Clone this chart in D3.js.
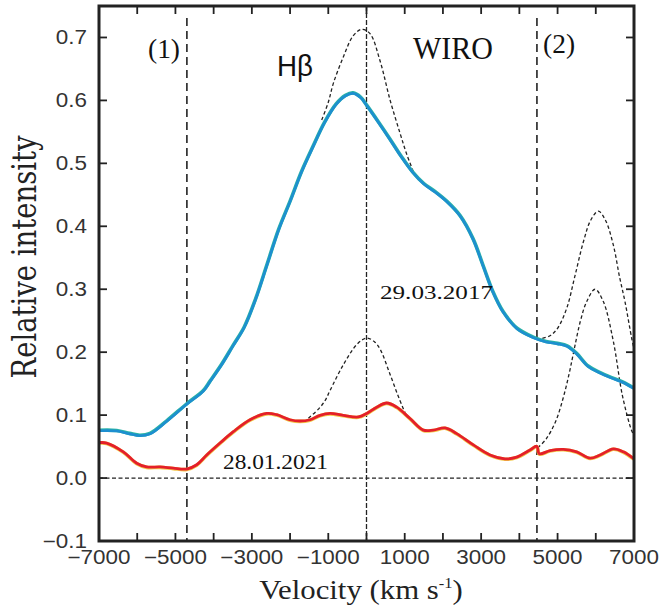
<!DOCTYPE html>
<html>
<head>
<meta charset="utf-8">
<script src="https://cdn.jsdelivr.net/npm/d3@7/dist/d3.min.js"></script>
<style>
  body { margin: 0; background: #fff; }
</style>
</head>
<body>
<div class="chart"></div>
<script>
// observed profiles (velocity km/s, relative intensity)
var spec2017 = [[-7000,0.076],[-6537,0.0756],[-6200,0.071],[-5927,0.068],[-5665,0.071],[-5228,0.091],
  [-4705,0.118],[-4270,0.139],[-4095,0.154],[-3800,0.18],[-3500,0.21],[-3200,0.24],[-2900,0.285],
  [-2600,0.34],[-2300,0.395],[-2000,0.44],[-1700,0.487],[-1400,0.527],[-1100,0.565],[-800,0.594],
  [-550,0.608],[-350,0.612],[-150,0.605],[0,0.593],[300,0.567],[600,0.54],[900,0.512],[1200,0.487],
  [1500,0.468],[1800,0.455],[2100,0.44],[2450,0.417],[2790,0.38],[3050,0.338],[3310,0.296],
  [3570,0.265],[3940,0.238],[4360,0.224],[4700,0.217],[5000,0.214],[5250,0.21],[5500,0.198],
  [5800,0.178],[6100,0.168],[6400,0.16],[6700,0.153],[7000,0.143]];

var spec2021 = [[-7000,0.0556],[-6800,0.055],[-6364,0.041],[-6013,0.023],[-5752,0.017],[-5400,0.017],
  [-5056,0.015],[-4705,0.0137],[-4443,0.0205],[-4181,0.036],[-3833,0.055],[-3485,0.073],[-3048,0.092],
  [-2611,0.102],[-2350,0.100],[-2002,0.092],[-1740,0.090],[-1478,0.092],[-1216,0.099],[-955,0.102],
  [-607,0.099],[-214,0.0965],[5,0.102],[267,0.112],[529,0.1186],[791,0.112],[1139,0.094],[1488,0.0756],
  [1749,0.0756],[2055,0.079],[2361,0.070],[2797,0.052],[3233,0.036],[3625,0.030],[3931,0.0326],
  [4280,0.044],[4455,0.050],[4523,0.038],[4802,0.043],[5151,0.045],[5500,0.041],[5849,0.031],
  [6111,0.036],[6460,0.0457],[6722,0.041],[7000,0.030]];

// dashed fitted components
var fit2017a = [[-1172,0.569],[-1000,0.597],[-868,0.627],[-607,0.669],[-345,0.703],[-125,0.713],
  [92,0.706],[354,0.663],[615,0.601],[877,0.548],[1050,0.515],[1270,0.480]];
var fit2021a = [[-1520,0.095],[-1250,0.11],[-1085,0.123],[-955,0.139],[-607,0.18],[-256,0.212],
  [0,0.2225],[200,0.217],[354,0.205],[615,0.165],[877,0.123],[1050,0.10],[1150,0.094]];
var fit2017b = [[4600,0.222],[4800,0.226],[5000,0.238],[5240,0.27],[5450,0.32],[5674,0.375],
  [5870,0.41],[6067,0.424],[6250,0.41],[6460,0.37],[6620,0.32],[6765,0.28],[6940,0.222],[7000,0.205]];
var fit2021b = [[4480,0.048],[4700,0.062],[4950,0.09],[5150,0.128],[5300,0.165],[5420,0.2],
  [5600,0.25],[5760,0.28],[5980,0.30],[6200,0.28],[6460,0.217],[6700,0.13],[6940,0.075],[7000,0.068]];

var xTickValues = [-6000,-5000,-4000,-3000,-2000,-1000,0,1000,2000,3000,4000,5000,6000];
var xTickLabels = [-7000,-5000,-3000,-1000,1000,3000,5000,7000];
var yTickLabels = [-0.1,0.0,0.1,0.2,0.3,0.4,0.5,0.6,0.7];

var markers = [-4700, 4460];   // (1) and (2)
var lineCenter = 0;

var notes = [
  {text: "(1)", v: -4880, i: 0.668, anchor: "end", font: "Liberation Serif", size: 27, len: 32},
  {text: "Hβ", v: -2342, i: 0.639, anchor: "start", font: "Liberation Sans", size: 30, len: 36},
  {text: "WIRO", v: 1217, i: 0.666, anchor: "start", font: "Liberation Serif", size: 32, len: 80},
  {text: "(2)", v: 4620, i: 0.675, anchor: "start", font: "Liberation Serif", size: 27, len: 32},
  {text: "29.03.2017", v: 354, i: 0.285, anchor: "start", font: "Liberation Serif", size: 19, len: 113},
  {text: "28.01.2021", v: -3755, i: 0.014, anchor: "start", font: "Liberation Serif", size: 20, len: 105}
];

var svgWidth = 661, svgHeight = 612;
var margin = {top: 6, left: 99, right: 27, bottom: 71};
var width = svgWidth - margin.left - margin.right;
var height = svgHeight - margin.top - margin.bottom;

var svg = d3.select(".chart").append("svg")
  .attr("width", svgWidth)
  .attr("height", svgHeight)
  .style("display", "block");

var g = svg.append("g")
  .attr("transform", `translate(${margin.left}, ${margin.top})`);

var x = d3.scaleLinear().domain([-7000, 7000]).range([0, width]);
var y = d3.scaleLinear().domain([-0.1, 0.75]).range([height, 0]);

var line = d3.line()
  .x(d => x(d[0]))
  .y(d => y(d[1]))
  .curve(d3.curveCatmullRom.alpha(0.5));

var ink = "#222";

// zero line
g.append("line")
  .attr("x1", 0).attr("x2", width)
  .attr("y1", y(0)).attr("y2", y(0))
  .attr("stroke", ink).attr("stroke-width", 1.2)
  .attr("stroke-dasharray", "4,2.5");

// vertical markers
g.selectAll(".marker").data(markers).enter().append("line")
  .attr("class", "marker")
  .attr("x1", d => x(d)).attr("x2", d => x(d))
  .attr("y1", y(0.731)).attr("y2", height)
  .attr("stroke", ink).attr("stroke-width", 1.6)
  .attr("stroke-dasharray", "8,5");

g.append("line")
  .attr("x1", x(lineCenter)).attr("x2", x(lineCenter))
  .attr("y1", 0).attr("y2", height)
  .attr("stroke", ink).attr("stroke-width", 1.3)
  .attr("stroke-dasharray", "5,2");

// fitted components
[fit2017a, fit2021a, fit2017b, fit2021b].forEach(function(f) {
  g.append("path")
    .attr("d", line(f))
    .attr("fill", "none")
    .attr("stroke", ink)
    .attr("stroke-width", 1.3)
    .attr("stroke-dasharray", "3.5,2.5");
});

// observed spectra
g.append("path").attr("d", line(spec2021))
  .attr("fill", "none").attr("stroke", "#f2c84a").attr("stroke-width", 3.6);
g.append("path").attr("d", line(spec2021))
  .attr("fill", "none").attr("stroke", "#e41f2a").attr("stroke-width", 2.8)
  .attr("transform", "translate(0,-0.4)");

g.append("path").attr("d", line(spec2017))
  .attr("fill", "none").attr("stroke", "#2ab3a6").attr("stroke-width", 3.6);
g.append("path").attr("d", line(spec2017))
  .attr("fill", "none").attr("stroke", "#1d8fd0").attr("stroke-width", 2.6)
  .attr("transform", "translate(0,0.5)");

// frame and ticks
g.append("rect")
  .attr("width", width).attr("height", height)
  .attr("fill", "none").attr("stroke", ink).attr("stroke-width", 3);

var tickLen = 8;
g.selectAll(".xtb").data(xTickValues).enter().append("line")
  .attr("x1", d => x(d)).attr("x2", d => x(d))
  .attr("y1", height).attr("y2", height - tickLen)
  .attr("stroke", ink).attr("stroke-width", 1.8);
g.selectAll(".xtt").data(xTickValues).enter().append("line")
  .attr("x1", d => x(d)).attr("x2", d => x(d))
  .attr("y1", 0).attr("y2", tickLen)
  .attr("stroke", ink).attr("stroke-width", 1.8);
g.selectAll(".ytl").data(yTickLabels.slice(1)).enter().append("line")
  .attr("x1", 0).attr("x2", tickLen)
  .attr("y1", d => y(d)).attr("y2", d => y(d))
  .attr("stroke", ink).attr("stroke-width", 1.8);
g.selectAll(".ytr").data(yTickLabels.slice(1)).enter().append("line")
  .attr("x1", width).attr("x2", width - tickLen)
  .attr("y1", d => y(d)).attr("y2", d => y(d))
  .attr("stroke", ink).attr("stroke-width", 1.8);

// tick labels (stretched a little, as in the original)
function stretch(sel, k) {
  sel.each(function() {
    var w = this.getComputedTextLength();
    d3.select(this).attr("textLength", w * k).attr("lengthAdjust", "spacingAndGlyphs");
  });
}

var minus = "\u2212";
var xl = g.selectAll(".xlab").data(xTickLabels).enter().append("text")
  .attr("x", d => x(d))
  .attr("y", height + 23)
  .attr("text-anchor", "middle")
  .style("font-family", "Liberation Sans, Arial, sans-serif")
  .style("font-size", "19.5px")
  .attr("fill", "#333")
  .text(d => (d < 0 ? minus : "") + Math.abs(d));
stretch(xl, 1.15);

var yl = g.selectAll(".ylab").data(yTickLabels).enter().append("text")
  .attr("x", -12)
  .attr("y", d => y(d) + 7)
  .attr("text-anchor", "end")
  .style("font-family", "Liberation Sans, Arial, sans-serif")
  .style("font-size", "19.5px")
  .attr("fill", "#333")
  .text(d => (d < 0 ? minus : "") + Math.abs(d).toFixed(1));
stretch(yl, 1.15);

// annotations
notes.forEach(function(n) {
  g.append("text")
    .attr("x", x(n.v))
    .attr("y", y(n.i))
    .attr("text-anchor", n.anchor)
    .style("font-family", n.font)
    .style("font-size", n.size + "px")
    .attr("fill", "#111")
    .attr("textLength", n.len)
    .attr("lengthAdjust", "spacingAndGlyphs")
    .text(n.text);
});

// axis titles
var xt = svg.append("text")
  .attr("transform", "translate(361, 599) scale(1.1,1)")
  .attr("text-anchor", "middle")
  .style("font-family", "Liberation Serif, Times New Roman, serif")
  .style("font-size", "28px")
  .attr("fill", "#222");
xt.append("tspan").text("Velocity (km s");
xt.append("tspan").attr("dy", -11).style("font-size", "15px").text("-1");
xt.append("tspan").attr("dy", 11).text(")");

svg.append("text")
  .attr("transform", "translate(36, 257) rotate(-90)")
  .attr("text-anchor", "middle")
  .style("font-family", "DejaVu Serif, serif")
  .style("font-size", "33px")
  .attr("fill", "#222")
  .attr("textLength", 243)
  .attr("lengthAdjust", "spacingAndGlyphs")
  .text("Relative intensity");
</script>
</body>
</html>
